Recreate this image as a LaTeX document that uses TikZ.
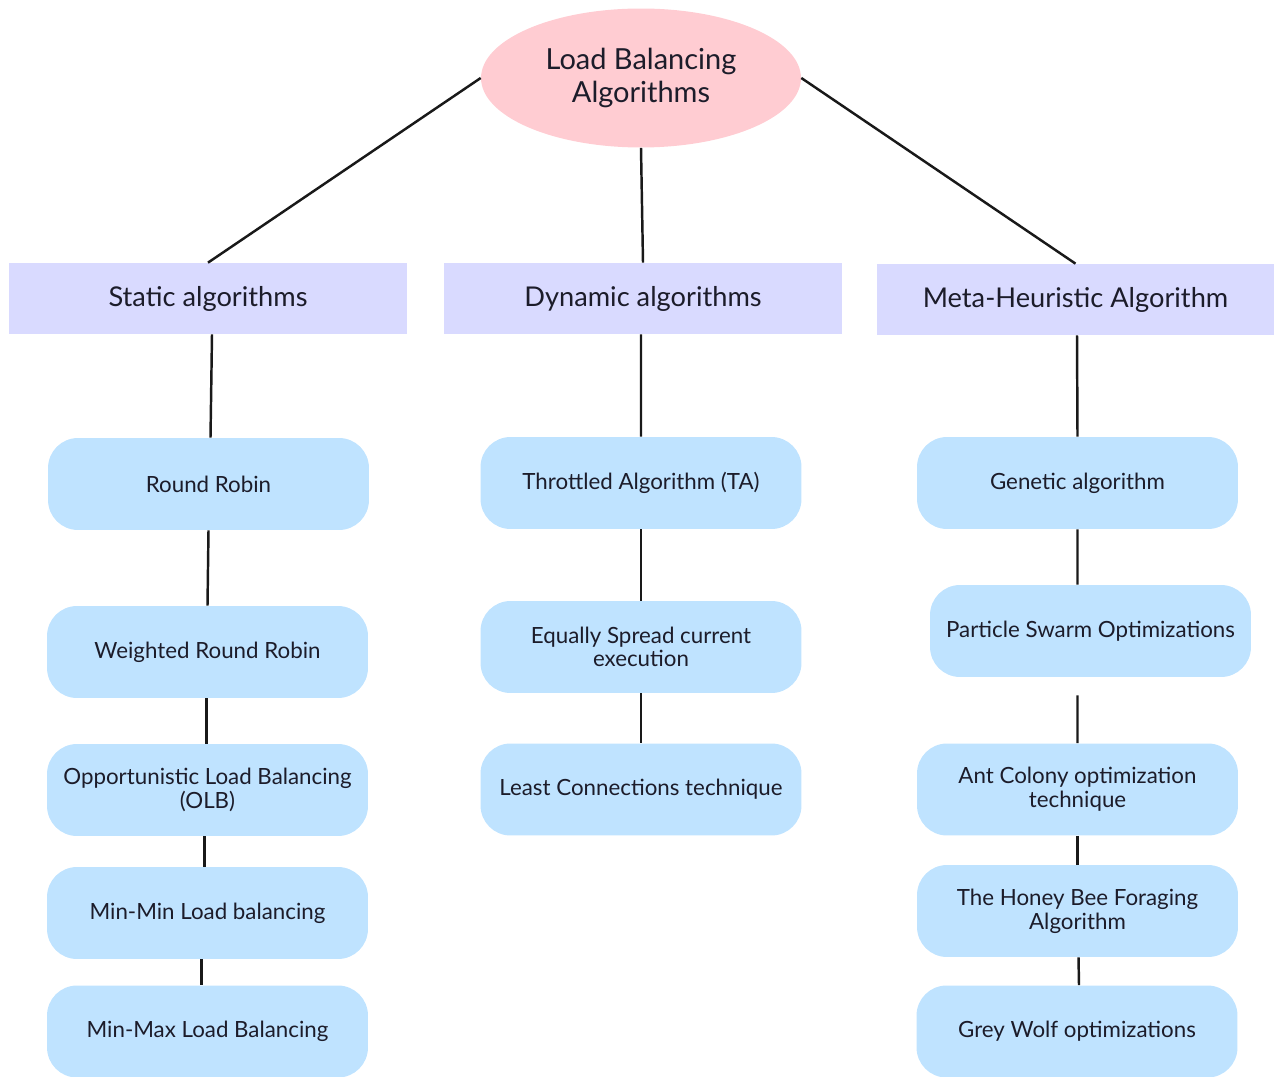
\documentclass[tikz,border=0pt]{standalone}
\usepackage{fontspec}
\setmainfont{Lato}
\usetikzlibrary{shapes.geometric}
\definecolor{rootfill}{HTML}{FFCCD2}
\definecolor{headfill}{HTML}{D9DAFF}
\definecolor{boxfill}{HTML}{BFE3FF}
\definecolor{txt}{HTML}{1C1C2A}
\tikzset{
  root/.style={ellipse, fill=rootfill, minimum width=6.4cm, minimum height=2.78cm, inner sep=0pt, align=center, text=txt,
    font=\fontsize{16.5}{18.8}\selectfont},
  head/.style={rectangle, fill=headfill, minimum width=7.96cm, minimum height=1.42cm, inner sep=0pt, text=txt,
    font=\fontsize{15.5}{18}\selectfont},
  leaf/.style={rectangle, rounded corners=0.6cm, fill=boxfill, minimum width=6.42cm, minimum height=1.84cm, inner sep=0pt,
    align=center, text=txt, font=\fontsize{12.7}{13.5}\selectfont},
  link/.style={draw=black!90, line width=1.4pt}
}
\begin{document}
\begin{tikzpicture}[x=0.02cm,y=-0.02cm]
\useasboundingbox (0,0) rectangle (1274,1077);
\node[root] (root) at (641,78) {Load Balancing\\Algorithms};
\node[head] (stat) at (208,298.5) {Static algorithms};
\node[head] (dyn) at (643,298.5) {Dynamic algorithms};
\node[head] (meta) at (1075.5,299.5) {Meta-Heuristic Algorithm};
% static
\node[leaf] (rr) at (208.5,484) {Round Robin};
\node[leaf] (wrr) at (207.5,652) {Weighted Round Robin};
\node[leaf] (olb) at (207.5,790) {Opportunistic Load Balancing\\(OLB)};
\node[leaf] (mmin) at (207.5,913) {Min-Min Load balancing};
\node[leaf] (mmax) at (207.5,1031.5) {Min-Max Load Balancing};
% dynamic
\node[leaf] (ta) at (641,483) {Throttled Algorithm (TA)};
\node[leaf] (esc) at (641,647) {Equally Spread current\\execution};
\node[leaf] (lc) at (641,789.5) {Least Connections technique};
% meta
\node[leaf] (ga) at (1077.5,483) {Genetic algorithm};
\node[leaf] (pso) at (1090.5,631) {Particle Swarm Optimizations};
\node[leaf] (aco) at (1077.5,789.5) {Ant Colony optimization\\technique};
\node[leaf] (hb) at (1077.5,911) {The Honey Bee Foraging\\Algorithm};
\node[leaf] (gw) at (1077,1031.5) {Grey Wolf optimizations};
% connectors
\draw[link] (root.west) -- (stat.north);
\draw[link] (root.south) -- (dyn.north);
\draw[link] (root.east) -- (meta.north);
\draw[link] ([xshift=0.08cm]stat.south) -- ([xshift=0.04cm]rr.north);
\draw[link] (rr.south) -- (wrr.north);
\draw[link] ([xshift=-0.02cm]wrr.south) -- ([xshift=-0.02cm]olb.north);
\draw[link] ([xshift=-0.06cm]olb.south) -- ([xshift=-0.06cm]mmin.north);
\draw[link] ([xshift=-0.12cm]mmin.south) -- ([xshift=-0.12cm]mmax.north);
\draw[link] ([xshift=-0.04cm]dyn.south) -- (ta.north);
\draw[link] (ta.south) -- (esc.north);
\draw[link] (esc.south) -- (lc.north);
\draw[link] ([xshift=0.03cm]meta.south) -- (ga.north);
\draw[link] (ga.south) -- ([xshift=-0.26cm]pso.north);
\draw[link, shorten <=0.36cm] ([xshift=-0.26cm]pso.south) -- (aco.north);
\draw[link] (aco.south) -- (hb.north);
\draw[link] ([xshift=0.02cm]hb.south) -- ([xshift=0.04cm]gw.north);
\end{tikzpicture}
\end{document}
